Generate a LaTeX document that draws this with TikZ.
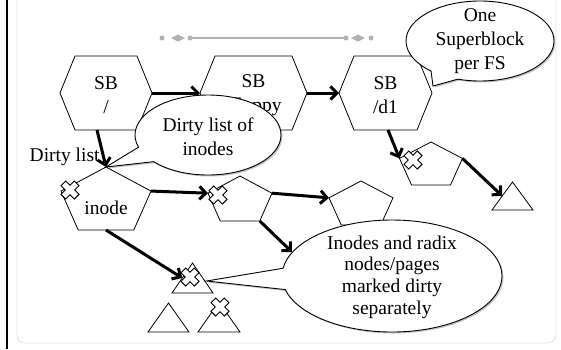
\documentclass[tikz,border=0pt]{standalone}
\usepackage{fontspec}
\setmainfont{Liberation Serif}
\usetikzlibrary{arrows.meta,shapes.callouts,shadows,calc}

\tikzset{
  shapeline/.style={draw=black, fill=white, line width=0.8pt, line join=miter},
  lbl/.style={font=\fontsize{19.5}{24}\selectfont, align=center, inner sep=0pt},
  arr/.style={line width=3pt, -{Straight Barb[length=6.5pt,width=13pt]}},
  bubble/.style={ellipse callout, draw=black, fill=white, line width=0.9pt,
    inner sep=0pt, callout pointer arc=24,
    drop shadow={opacity=0.45, shadow xshift=1.5pt, shadow yshift=-1.5pt}},
  % hexagon: width, height, slant inset
  pics/hexa/.style n args={3}{code={
    \path[shapeline] ({-#1/2},0) -- ({-#1/2+#3},{-#2/2}) -- ({#1/2-#3},{-#2/2})
      -- ({#1/2},0) -- ({#1/2-#3},{#2/2}) -- ({-#1/2+#3},{#2/2}) -- cycle;
    \coordinate (-l) at ({-#1/2},0);
    \coordinate (-r) at ({#1/2},0);
    \coordinate (-t) at (0,{-#2/2});
    \coordinate (-b) at (0,{#2/2});
  }},
  % pentagon hanging from its top vertex: width, height
  pics/penta/.style n args={2}{code={
    \path[shapeline] (0,0) -- ({#1/2},{0.382*#2}) -- ({0.309*#1},#2)
      -- ({-0.309*#1},#2) -- ({-#1/2},{0.382*#2}) -- cycle;
    \coordinate (-top) at (0,0);
    \coordinate (-ul) at ({-#1/2},{0.382*#2});
    \coordinate (-ur) at ({#1/2},{0.382*#2});
    \coordinate (-br) at ({0.309*#1},#2);
    \coordinate (-b) at (0,#2);
  }},
  % triangle hanging from its apex: width, height
  pics/trian/.style n args={2}{code={
    \path[shapeline] (0,0) -- ({#1/2},#2) -- ({-#1/2},#2) -- cycle;
    \coordinate (-apex) at (0,0);
    \coordinate (-lm) at ({-#1/4},{#2/2});
  }},
  % dirty mark: white cross with a black rim
  pics/xmark/.style={code={
    \draw[line width=7.6pt, black] (-7,-7) -- (7,7) (-7,7) -- (7,-7);
    \draw[line width=5.4pt, white] (-6.2,-6.2) -- (6.2,6.2) (-6.2,6.2) -- (6.2,-6.2);
  }}
}

\begin{document}
\begin{tikzpicture}[x=1pt,y=-1pt]
\useasboundingbox (0,0) rectangle (561,349);
\fill[white] (0,0) rectangle (561,349);

% slide frame
\draw[gray!22, line width=0.8pt, rounded corners=8pt] (17,-20) rectangle (556,343);
\fill[black] (5.8,0) rectangle (8.4,349);

% title ornament
\draw[gray!60, line width=1.3pt] (190,38) -- (346,38);
\foreach \x in {162,190,346,371} \fill[gray!60] (\x,38) circle (2.5);
\foreach \x in {178,358} \fill[gray!60] (\x-7,38) -- (\x,34.5) -- (\x+7,38) -- (\x,41.5) -- cycle;

% superblocks
\pic (h1) at (106,93) {hexa={92}{74}{15}};
\pic (h2) at (253.5,93) {hexa={107}{74}{15}};
\pic (h3) at (385.5,93) {hexa={93}{74}{15}};
\node[lbl] (h1txt) at (106,95) {SB\\/};
\node[lbl] (h2txt) at (253.5,95) {SB\\/floppy};
\node[lbl] (h3txt) at (385.5,95) {SB\\/d1};

% inodes
\pic (inode) at (106,167) {penta={90}{63}};
\pic (p2) at (240,176) {penta={64}{45}};
\pic (p3) at (361,181) {penta={64}{44}};
\pic (p4) at (431,142) {penta={63}{43}};
\node[lbl] (inodetxt) at (106,208) {inode};

% radix nodes / pages
\pic (t1) at (192.5,263) {trian={41}{30}};
\pic (t2) at (168.5,303) {trian={41}{29}};
\pic (t3) at (219,302) {trian={42}{30}};
\pic (t4) at (512.5,182) {trian={41}{28}};

\node[lbl, anchor=west] (dirtylbl) at (29.5,157) {Dirty list};

% links
\coordinate (hiddenend) at (292,252);
\draw[arr] (h1-r) -- (h2-l);
\draw[arr] (h2-r) -- (h3-l);
\draw[arr] ($(h1-b)+(-9,0)$) -- (inode-top);
\draw[arr] ($(h3-b)+(2.5,0)$) -- (p4-ul);
\draw[arr] (p4-ur) -- (t4-lm);
\draw[arr] (inode-ur) -- (p2-ul);
\draw[arr] (p2-ur) -- (p3-ul);
\draw[arr] (p2-br) -- (hiddenend);
\draw[arr] (inode-b) -- (t1-lm);

% dirty marks
\pic at (70,190) {xmark};
\pic at (218,195) {xmark};
\pic at (413,160) {xmark};
\pic at (190,277) {xmark};
\pic at (220,307) {xmark};

% callouts
\coordinate (sbtip) at ($(h3-r)+(1,-7)$);
\coordinate (radixtip) at ($(t1-apex)+(14,18)$);
\node[bubble, minimum width=148pt, minimum height=80pt,
      callout absolute pointer={(sbtip)}] (sbnote) at (480,41) {};
\node[lbl, align=center] (sbnotetxt) at (480,41) {One\\Superblock\\per FS};
\node[bubble, minimum width=146pt, minimum height=80pt,
      callout absolute pointer={(inode-top)}] (dirtynote) at (208,135) {};
\node[lbl] (dirtynotetxt) at (208,137) {Dirty list of\\inodes};
\node[bubble, minimum width=220pt, minimum height=112pt, callout pointer arc=22,
      callout absolute pointer={(radixtip)}] (radixnote) at (392,276) {};
\node[lbl, font=\fontsize{19.5}{21.7}\selectfont] (radixnotetxt) at (392,277)
  {Inodes and radix\\nodes/pages\\marked dirty\\separately};
\end{tikzpicture}
\end{document}
